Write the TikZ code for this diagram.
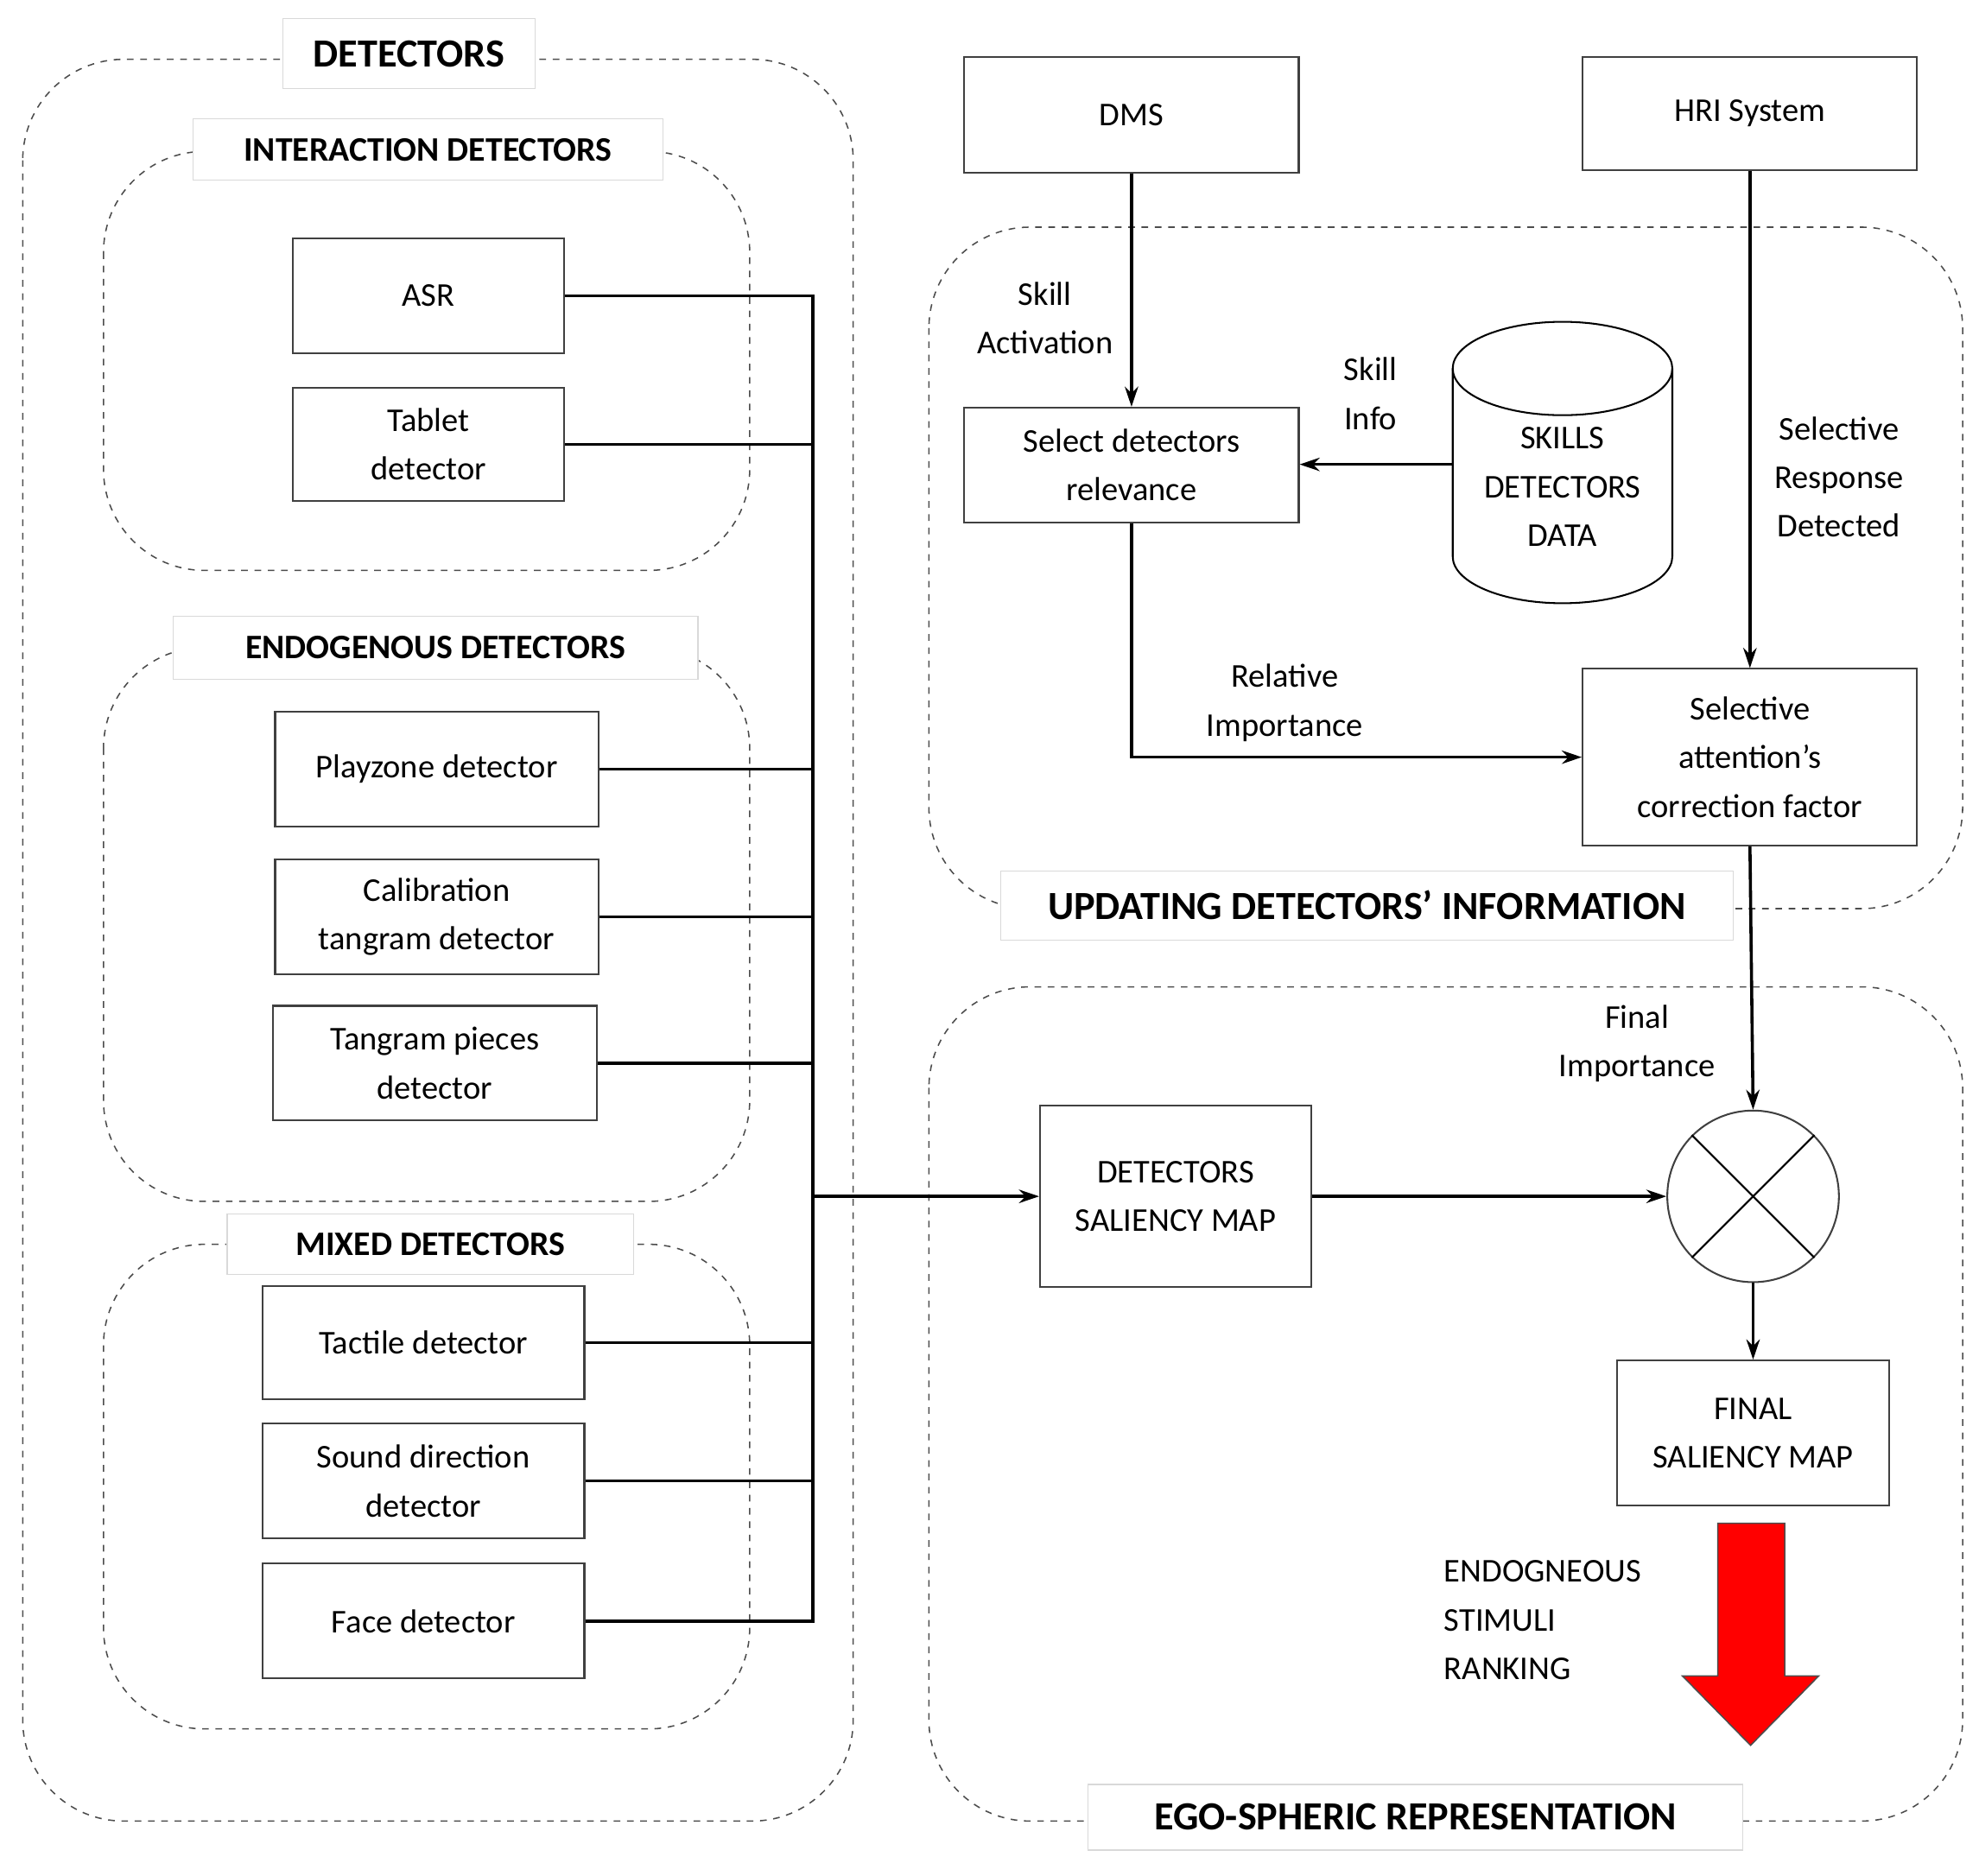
\documentclass[tikz,border=0pt]{standalone}
\usepackage{fontspec}
\setmainfont{Carlito}
\usetikzlibrary{arrows.meta}
\newcommand\mybx[7][box]{\node[#1,minimum width={(#5-#3)*0.02cm},minimum height={(#6-#4)*0.02cm}] (#2) at ({(#3+#5)/2},{(#4+#6)/2}) {#7};}
\begin{document}
\begin{tikzpicture}[x=0.02cm,y=-0.02cm,
 box/.style={draw=black!75,line width=0.8pt,inner sep=0pt,align=center,font=\fontsize{15}{22}\selectfont},
 grp/.style={draw=black!70,dashed,line width=0.6pt,rounded corners=1.6cm},
 lab/.style={draw=black!15,fill=white,inner sep=0pt,font=\bfseries\fontsize{15.5}{18}\selectfont},
 big/.style={lab,font=\bfseries\fontsize{18}{20}\selectfont},
 txt/.style={align=center,font=\fontsize{15}{22}\selectfont},
 con/.style={line width=1.4pt},
 arr/.style={con,-{Stealth[length=9pt,width=6pt]}}]
\useasboundingbox (0,0) rectangle (1568,1486);
% groups
\draw[grp] (18,47) rectangle (676,1443);
\draw[grp] (82,120) rectangle (594,452);
\draw[grp] (82,513) rectangle (594,952);
\draw[grp] (82,986) rectangle (594,1370);
\draw[grp] (736,180) rectangle (1555,720);
\draw[grp] (736,782) rectangle (1555,1443);
\mybx[big]{lD}{224}{15}{424}{70}{DETECTORS}
\mybx[lab]{lI}{153}{94}{525}{143}{INTERACTION DETECTORS}
\mybx[lab]{lE}{137}{488}{553}{538}{ENDOGENOUS DETECTORS}
\mybx[lab]{lM}{180}{962}{502}{1010}{MIXED DETECTORS}
\mybx[big]{lU}{793}{690}{1373}{745}{UPDATING DETECTORS’ INFORMATION}
\mybx[big]{lG}{862}{1414}{1381}{1466}{EGO-SPHERIC REPRESENTATION}
% detector boxes
\mybx{asr}{232}{189}{447}{280}{ASR}
\mybx{tab}{232}{307}{447}{397}{Tablet\\detector}
\mybx{play}{218}{564}{474}{655}{Playzone detector}
\mybx{cal}{218}{681}{474}{772}{Calibration\\tangram detector}
\mybx{tp}{216}{797}{473}{888}{Tangram pieces\\detector}
\mybx{tac}{208}{1019}{463}{1109}{Tactile detector}
\mybx{snd}{208}{1128}{463}{1219}{Sound direction\\detector}
\mybx{face}{208}{1239}{463}{1330}{Face detector}
% bus
\coordinate (btop) at (644,234);
\coordinate (bmid) at (644,948);
\draw[con] (asr.east) -| (bmid) |- (face.east);
\foreach \n in {tab,play,cal,tp,tac,snd}
  \draw[con] (\n.east) -- (\n.east-|bmid);
% right side
\mybx{dms}{764}{45}{1029}{137}{DMS}
\mybx{hri}{1254}{45}{1519}{135}{HRI System}
\mybx{sel}{764}{323}{1029}{414}{Select detectors\\relevance}
\mybx{cor}{1254}{530}{1519}{670}{Selective\\attention's\\correction factor}
\mybx{dsm}{824}{876}{1039}{1020}{DETECTORS\\SALIENCY MAP}
\mybx{fsm}{1281}{1078}{1497}{1193}{FINAL\\SALIENCY MAP}
\node[draw=black!75,line width=0.8pt,circle,minimum size=2.72cm,inner sep=0pt] (mul) at (1389,948) {};
\draw[line width=0.8pt] (mul.45) -- (mul.225) (mul.135) -- (mul.315);
% cylinder
\draw[line width=0.8pt,fill=white] (1151,292) -- (1151,441) arc[start angle=180,end angle=360,x radius=87,y radius=-37] -- (1325,292);
\draw[line width=0.8pt] (1238,292) ellipse[x radius=87,y radius=37];
\node[txt] (sk) at (1238,386) {SKILLS\\DETECTORS\\DATA};
\coordinate (skl) at (1151,368);
% arrows
\draw[arr] (dms.south) -- (sel.north);
\draw[arr] (skl) -- (sel.east|-skl);
\draw[arr] (hri.south) -- (cor.north);
\draw[arr] (sel.south) |- (cor.west);
\draw[arr] (cor.south) -- (mul.north);
\draw[arr] (dsm.east) -- (mul.west);
\draw[arr] (mul.south) -- (fsm.north);
\draw[arr] (bmid) -- (dsm.west);
% labels
\node[txt] at (828,252) {Skill\\Activation};
\node[txt] at (1086,312) {Skill\\Info};
\node[txt] at (1457,378) {Selective\\Response\\Detected};
\node[txt] at (1018,557) {Relative\\Importance};
\node[txt] at (1297,827) {Final\\Importance};
\node[txt,align=left,anchor=west] at (1138,1284) {ENDOGNEOUS\\STIMULI\\RANKING};
% red arrow
\draw[fill=red,draw=black!70,line width=0.6pt] (1361,1207) -- (1414,1207) -- (1414,1328) -- (1441,1328) -- (1387,1383) -- (1333,1328) -- (1361,1328) -- cycle;
\end{tikzpicture}
\end{document}
